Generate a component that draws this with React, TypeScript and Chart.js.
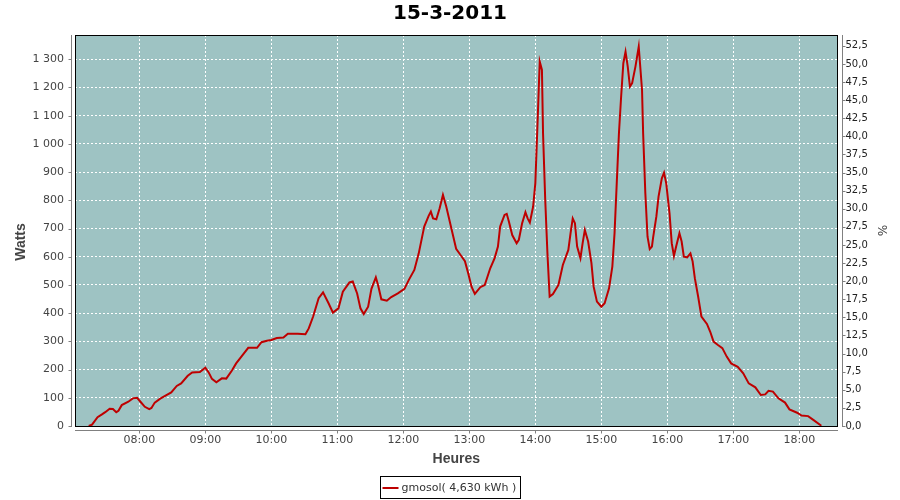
import React, { useEffect, useRef } from "react";
import { Chart, registerables } from "chart.js";

Chart.register(...registerables);

const chartTitle = "15-3-2011";
const legendLabel = "gmosol( 4,630 kWh )";
const xTitle = "Heures";
const yTitle = "Watts";
const y2Title = "%";

// time of day in minutes since midnight
const minutes = [
  434, 437, 442, 446, 449, 453, 456, 459, 461, 464, 470, 474, 478, 481, 485, 489, 491, 494, 499, 503,
  509, 514, 518, 524, 528, 535, 540, 543, 546, 550, 555, 559, 564, 568, 574, 579, 587, 591, 596, 600,
  605, 611, 615, 624, 631, 634, 638, 643, 647, 652, 656, 661, 665, 671, 674, 678, 681, 684, 688, 691,
  695, 697, 700, 705, 709, 715, 721, 725, 730, 734, 739, 743, 745, 747, 750, 753, 756, 759, 764, 768,
  772, 776, 779, 782, 785, 790, 794, 799, 803, 806, 808, 812, 814, 816, 819, 823, 825, 828, 831, 833,
  835, 838, 840, 842, 844, 846, 847, 849, 851, 853, 856, 861, 865, 870, 872, 874, 876, 878, 881, 883,
  885, 888, 891, 893, 896, 900, 903, 907, 910, 912, 914, 916, 918, 920, 922, 924, 926, 928, 931, 934,
  937, 938, 940, 942, 944, 946, 947, 950, 952, 955, 957, 959, 962, 964, 966, 968, 971, 973, 975, 978,
  981, 983, 985, 988, 991, 996, 999, 1002, 1006, 1010, 1014, 1018, 1024, 1029, 1034, 1040, 1045, 1049, 1052, 1056,
  1061, 1067, 1071, 1078, 1082, 1088, 1093, 1100,
];

const watts = [
  0, 5, 31, 41, 49, 61, 60, 49, 54, 74, 86, 98, 100, 86, 68, 60, 64, 83, 97, 106,
  119, 142, 151, 178, 190, 191, 207, 190, 167, 155, 169, 168, 196, 222, 252, 277, 277, 297, 302, 305,
  312, 314, 327, 327, 325, 346, 388, 453, 474, 435, 402, 417, 476, 509, 512, 470, 417, 397, 423, 486,
  527, 500, 449, 444, 457, 470, 486, 518, 553, 612, 707, 745, 760, 736, 733, 772, 819, 778, 695, 628,
  606, 584, 541, 494, 468, 492, 500, 559, 595, 636, 707, 748, 752, 724, 677, 648, 660, 719, 758, 736,
  721, 778, 861, 1073, 1292, 1262, 1038, 801, 612, 459, 468, 500, 571, 624, 683, 736, 719, 636, 595, 648,
  695, 654, 577, 494, 441, 423, 435, 488, 565, 683, 860, 1038, 1168, 1286, 1327, 1274, 1203, 1215, 1274, 1345,
  1191, 1038, 825, 671, 627, 636, 666, 742, 813, 878, 898, 860, 754, 648, 603, 636, 683, 654, 600, 598,
  612, 583, 524, 459, 388, 362, 334, 299, 287, 276, 246, 222, 210, 187, 151, 137, 110, 112, 125, 122,
  98, 83, 59, 47, 37, 35, 21, 1,
];

const hourTicks = [480, 540, 600, 660, 720, 780, 840, 900, 960, 1020, 1080];
const wattTicks = [0, 100, 200, 300, 400, 500, 600, 700, 800, 900, 1000, 1100, 1200, 1300];
const percentTicks = [
  0, 2.5, 5, 7.5, 10, 12.5, 15, 17.5, 20, 22.5, 25, 27.5, 30, 32.5, 35, 37.5, 40, 42.5, 45, 47.5, 50, 52.5,
];

const X_MIN = 421.5;
const X_MAX = 1114.7;
const W_MAX = 1386;
const P_MAX = 54.0;

const PLOT_BG = "rgb(158,195,195)";
const LINE_COLOR = "rgb(190,0,0)";
const AXIS_GRAY = "#808080";
const TEXT_GRAY = "#444444";
const FONT = "'DejaVu Sans', sans-serif";
const LABEL_FONT = "'Liberation Sans', sans-serif";

const pad2 = (n: number) => String(n).padStart(2, "0");
const fmtTime = (v: number) => `${pad2(Math.floor(v / 60))}:${pad2(Math.round(v % 60))}`;
const fmtWatts = (v: number) => {
  const s = String(Math.round(v));
  return s.length > 3 ? s.slice(0, s.length - 3) + " " + s.slice(s.length - 3) : s;
};
const fmtPct = (v: number) => v.toFixed(1).replace(".", ",");

const framePlugin = {
  id: "frame",
  beforeDraw(chart: any) {
    const { ctx, chartArea: a } = chart;
    ctx.save();
    ctx.fillStyle = "#ffffff";
    ctx.fillRect(0, 0, chart.width, chart.height);
    ctx.fillStyle = PLOT_BG;
    ctx.fillRect(a.left, a.top, a.right - a.left, a.bottom - a.top);
    ctx.restore();
  },
  afterDraw(chart: any) {
    const { ctx, chartArea: a, scales } = chart;
    const L = Math.round(a.left);
    const R = Math.round(a.right);
    const T = Math.round(a.top);
    const B = Math.round(a.bottom);
    ctx.save();
    // plot frame
    ctx.strokeStyle = "#000000";
    ctx.lineWidth = 1;
    ctx.strokeRect(L + 0.5, T + 0.5, R - L - 1, B - T);

    // offset axis lines
    ctx.strokeStyle = AXIS_GRAY;
    ctx.beginPath();
    const lx = L - 3.5;
    ctx.moveTo(lx, T);
    ctx.lineTo(lx, B + 1);
    wattTicks.forEach((v) => {
      const y = Math.round(scales.y.getPixelForValue(v)) + 0.5;
      ctx.moveTo(lx - 3, y);
      ctx.lineTo(lx, y);
    });
    const rx = R + 4.5;
    ctx.moveTo(rx, T);
    ctx.lineTo(rx, B + 1);
    percentTicks.forEach((v) => {
      const y = Math.round(scales.y1.getPixelForValue(v)) + 0.5;
      ctx.moveTo(rx, y);
      ctx.lineTo(rx + 3, y);
    });
    const by = B + 4.5;
    ctx.moveTo(L, by);
    ctx.lineTo(R, by);
    hourTicks.forEach((v) => {
      const x = Math.round(scales.x.getPixelForValue(v)) + 0.5;
      ctx.moveTo(x, by);
      ctx.lineTo(x, by + 3);
    });
    ctx.stroke();

    // title
    ctx.fillStyle = "#000000";
    ctx.font = `bold 20px ${FONT}`;
    ctx.textAlign = "center";
    ctx.textBaseline = "middle";
    ctx.fillText(chartTitle, chart.width / 2, 14);

    // left axis title
    ctx.save();
    ctx.translate(21, 242);
    ctx.rotate(-Math.PI / 2);
    ctx.fillStyle = TEXT_GRAY;
    ctx.font = `bold 14px ${LABEL_FONT}`;
    ctx.textAlign = "center";
    ctx.textBaseline = "middle";
    ctx.fillText(yTitle, 0, 0);
    ctx.restore();

    // legend
    ctx.font = `11px ${FONT}`;
    const boxW = 140;
    const boxX = Math.round(chart.width / 2 - boxW / 2) + 0.5;
    const boxY = 476.5;
    ctx.strokeStyle = "#000000";
    ctx.lineWidth = 1;
    ctx.strokeRect(boxX, boxY, boxW, 22);
    ctx.strokeStyle = LINE_COLOR;
    ctx.lineWidth = 2;
    ctx.beginPath();
    ctx.moveTo(boxX + 2, 488);
    ctx.lineTo(boxX + 18, 488);
    ctx.stroke();
    ctx.fillStyle = "#333333";
    ctx.textAlign = "left";
    ctx.textBaseline = "middle";
    ctx.fillText(legendLabel, boxX + 21, 488);
    ctx.restore();
  },
};

export default function App() {
  const ref = useRef<HTMLCanvasElement | null>(null);

  useEffect(() => {
    document.body.style.margin = "0";
    const canvas = ref.current;
    if (!canvas) return;
    const chart = new Chart(canvas, {
      type: "line",
      data: {
        datasets: [
          {
            label: legendLabel,
            data: minutes.map((m, i) => ({ x: m, y: watts[i] })),
            borderColor: LINE_COLOR,
            backgroundColor: LINE_COLOR,
            borderWidth: 2,
            pointRadius: 0,
            tension: 0,
            fill: false,
            xAxisID: "x",
            yAxisID: "y",
          },
        ],
      },
      options: {
        animation: false,
        responsive: false,
        devicePixelRatio: 1,
        layout: { padding: { top: 35, left: 0, right: 0, bottom: 0 } },
        plugins: {
          legend: { display: false },
          title: { display: false },
          tooltip: { enabled: false },
        },
        scales: {
          x: {
            type: "linear",
            position: "bottom",
            min: X_MIN,
            max: X_MAX,
            afterBuildTicks: (s: any) => {
              s.ticks = hourTicks.map((v) => ({ value: v }));
            },
            afterFit: (s: any) => {
              s.height = 74;
            },
            grid: { color: "#ffffff", lineWidth: 1, drawTicks: false, drawOnChartArea: true },
            border: { display: false, dash: [2, 2] },
            ticks: {
              callback: (v: any) => fmtTime(Number(v)),
              color: TEXT_GRAY,
              font: { family: FONT, size: 11 },
              padding: 8,
              maxRotation: 0,
              autoSkip: false,
            },
            title: {
              display: true,
              text: xTitle,
              color: TEXT_GRAY,
              font: { family: LABEL_FONT, size: 14, weight: "bold" },
              padding: { top: 0, bottom: 32 },
            },
          },
          y: {
            type: "linear",
            position: "left",
            min: 0,
            max: W_MAX,
            afterBuildTicks: (s: any) => {
              s.ticks = wattTicks.map((v) => ({ value: v }));
            },
            afterFit: (s: any) => {
              s.width = 75;
            },
            grid: { color: "#ffffff", lineWidth: 1, drawTicks: false },
            border: { display: false, dash: [2, 2] },
            ticks: {
              callback: (v: any) => fmtWatts(Number(v)),
              color: TEXT_GRAY,
              font: { family: FONT, size: 11 },
              padding: 11,
              autoSkip: false,
            },
            title: { display: false },
          },
          y1: {
            type: "linear",
            position: "right",
            min: 0,
            max: P_MAX,
            afterBuildTicks: (s: any) => {
              s.ticks = percentTicks.map((v) => ({ value: v }));
            },
            afterFit: (s: any) => {
              s.width = 62.5;
            },
            grid: { display: false, drawTicks: false, drawOnChartArea: false },
            border: { display: false },
            ticks: {
              callback: (v: any) => fmtPct(Number(v)),
              color: "#222222",
              font: { family: FONT, size: 10 },
              padding: 8,
              autoSkip: false,
            },
            title: {
              display: true,
              text: y2Title,
              color: TEXT_GRAY,
              font: { family: FONT, size: 12 },
              padding: { top: 12, bottom: 0 },
            },
          },
        },
      },
      plugins: [framePlugin],
    });
    return () => chart.destroy();
  }, []);

  return (
    <div style={{ width: 900, height: 500 }}>
      <canvas ref={ref} width={900} height={500} style={{ display: "block", width: 900, height: 500 }} />
    </div>
  );
}
